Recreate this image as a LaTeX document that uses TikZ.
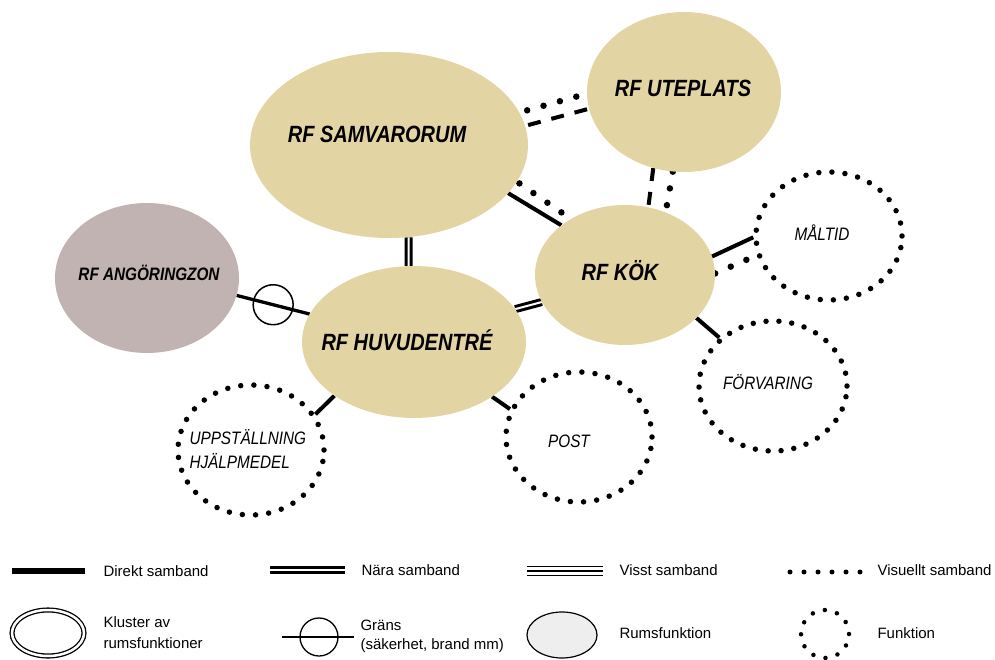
\documentclass[tikz,border=0pt]{standalone}
\usepackage{fontspec}
\setmainfont{Liberation Sans}
\newfontfamily\rumfont[FakeStretch=0.85]{Liberation Sans}
\usetikzlibrary{shapes.geometric,backgrounds}
\definecolor{rumgul}{RGB}{227,213,163}
\definecolor{rumgra}{RGB}{193,179,177}
\definecolor{legfyll}{RGB}{238,238,238}

\begin{document}
\begin{tikzpicture}[x=1pt,y=-1pt,
  rum/.style={ellipse,fill=rumgul,inner sep=0pt},
  funk/.style={ellipse,draw,fill=white,inner sep=0pt,line width=5.5pt,line cap=round,dash pattern=on 0pt off #1},
  rumtext/.style={font=\rumfont\bfseries\itshape\fontsize{23.5}{26}\selectfont},
  funktext/.style={font=\rumfont\itshape\fontsize{18}{24}\selectfont},
  direkt/.style={line width=4pt},
  nara/.style={double,line width=3pt,double distance=2pt},
  visuellt/.style={line width=6.5pt,line cap=round,dash pattern=on 0pt off 17pt},
  streckad/.style={line width=4pt,dash pattern=on 13pt off 11pt},
  grans/.style={circle,draw,line width=1.5pt,minimum size=40pt,inner sep=0pt},
  legtext/.style={font=\fontsize{15}{20}\selectfont,anchor=west,align=left}]
\useasboundingbox (0,0) rectangle (995,660);

\node[rum,minimum width=278pt,minimum height=186pt] (samv) at (389,145) {};
\node[rum,minimum width=194pt,minimum height=160pt] (ute) at (684,92) {};
\node[rum,fill=rumgra,minimum width=184pt,minimum height=150pt] (ang) at (147,278) {};
\node[rum,minimum width=180pt,minimum height=140pt] (kok) at (625,275) {};
\node[rum,minimum width=224pt,minimum height=152pt] (huvud) at (414,342) {};
\node[funk=13.1pt,minimum width=146pt,minimum height=128pt] (maltid) at (829,236) {};
\node[funk=12.92pt,minimum width=148pt,minimum height=130pt] (forv) at (773,386) {};
\node[funk=13.2pt,minimum width=146pt,minimum height=130pt] (post) at (579,437) {};
\node[funk=13.2pt,minimum width=146pt,minimum height=130pt] (uppst) at (251,450) {};

\node[rumtext] (samvtext) at (377,134) {RF SAMVARORUM};
\node[rumtext] (utetext) at (683,88) {RF UTEPLATS};
\node[rumtext,font=\rumfont\bfseries\itshape\fontsize{18}{22}\selectfont] (angtext) at (149,273) {RF ANGÖRINGZON};
\node[rumtext] (koktext) at (620,271) {RF KÖK};
\node[rumtext] (huvudtext) at (407,340) {RF HUVUDENTRÉ};
\node[funktext] (maltidtext) at (822,233) {MÅLTID};
\node[funktext] (forvtext) at (768,382) {FÖRVARING};
\node[funktext] (posttext) at (569,441) {POST};
\node[funktext,anchor=west,align=left] (uppsttext) at (186,449) {UPPSTÄLLNING\\HJÄLPMEDEL};

\begin{pgfonlayer}{background}
\draw[direkt] (samv.-22.8) -- (kok.142.4);
\draw[visuellt,shorten <=3pt] (samv.-16.7) -- (kok.134);
\draw[visuellt,shorten <=8pt] (samv.14.5) -- (ute.181.7);
\draw[streckad,shorten <=3pt] (samv.8.6) -- (ute.190.5);
\draw[streckad] (ute.248.8) -- (kok.71.3);
\draw[visuellt] (ute.262) -- (kok.57.9);
\draw[nara] (samv.-78) -- (huvud.94.5);
\draw[nara] (huvud.18.1) -- (kok.198.2);
\draw[direkt,line width=3.3pt] (ang.-11.9) -- (huvud.165.7) node[grans,midway] (angrans) {};
\draw[direkt] (kok.12.3) -- (maltid.181);
\draw[visuellt] (kok.1.3) -- (maltid.195);
\draw[direkt] (kok.-31.6) -- (forv.138);
\draw[direkt] (huvud.-35.6) -- (post.158);
\draw[direkt] (huvud.214.9) -- (uppst.29.3);
\end{pgfonlayer}

\coordinate (direktA) at (12,571);
\coordinate (direktB) at (85,571);
\draw[line width=6pt] (direktA) -- (direktB);
\node[legtext] (direkttext) at (100,571) {Direkt samband};
\coordinate (naraA) at (270,570);
\coordinate (naraB) at (345,570);
\draw[double,line width=2.5pt,double distance=2.5pt] (naraA) -- (naraB);
\node[legtext] (naratext) at (358,570) {Nära samband};
\coordinate (visstA) at (527,571);
\coordinate (visstB) at (603,571);
\draw[line width=1.8pt] ([yshift=-4.5pt]visstA) -- ([yshift=-4.5pt]visstB);
\draw[line width=1.8pt] (visstA) -- (visstB);
\draw[line width=1.8pt] ([yshift=4.5pt]visstA) -- ([yshift=4.5pt]visstB);
\node[legtext] (visstext) at (616,570) {Visst samband};
\coordinate (visA) at (790,572);
\coordinate (visB) at (861,572);
\draw[line width=5pt,line cap=round,dash pattern=on 0pt off 14pt] (visA) -- (visB);
\node[legtext] (vistext) at (874,570) {Visuellt samband};

\node[ellipse,draw,double,line width=1.3pt,double distance=2.5pt,minimum width=72pt,minimum height=46pt] (kluster) at (48,633) {};
\node[legtext,font=\fontsize{15}{21}\selectfont] (klustertext) at (100,633) {Kluster av\\rumsfunktioner};
\node[grans,line width=1.3pt,minimum size=38pt] (granssymbol) at (319,637) {};
\draw[line width=1.3pt] (granssymbol.center) ++(-37,0) -- ++(72,0);
\node[legtext,font=\fontsize{15}{19}\selectfont] (granstext) at (357,636) {Gräns\\(säkerhet, brand mm)};
\node[ellipse,draw,fill=legfyll,line width=1.2pt,minimum width=70pt,minimum height=46pt] (rumsymbol) at (562,635) {};
\node[legtext] (rumtext) at (616,633) {Rumsfunktion};
\node[ellipse,draw,line width=4.5pt,line cap=round,dash pattern=on 0pt off 12.6pt,minimum width=48pt,minimum height=48pt,inner sep=0pt] (funksymbol) at (825,634) {};
\node[legtext] (funktext) at (874,633) {Funktion};
\end{tikzpicture}
\end{document}
